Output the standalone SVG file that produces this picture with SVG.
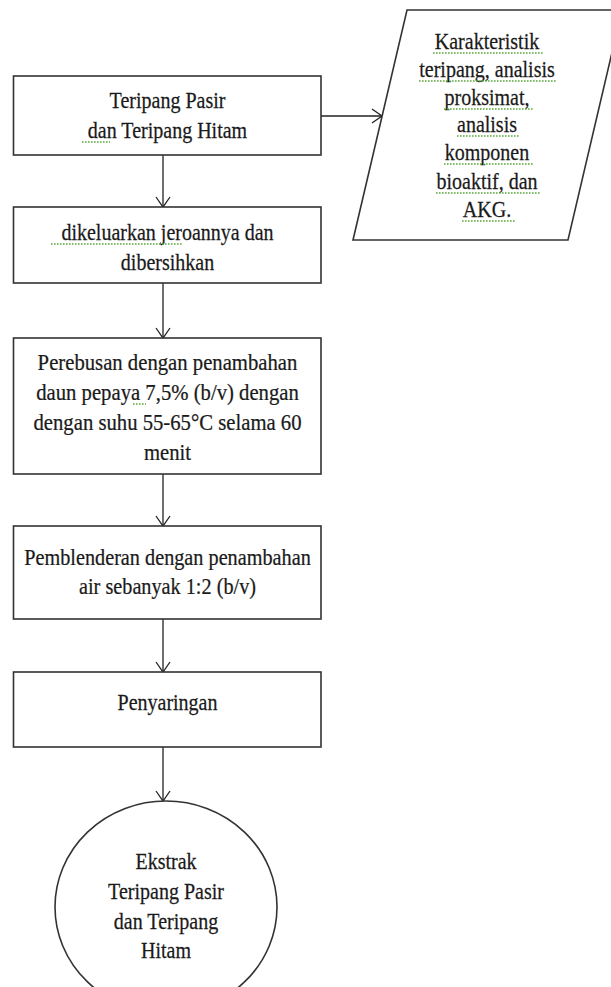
<svg xmlns="http://www.w3.org/2000/svg" width="611" height="987" viewBox="0 0 611 987">
<style>
.box{fill:#fff;stroke:#333;stroke-width:1.6}
.t{font-family:"Liberation Serif","Times New Roman",serif;font-size:23px;fill:#1a1a1a;stroke:#1a1a1a;stroke-width:0.25;text-anchor:middle}
.c{fill:none;stroke:#222;stroke-width:1.3}
.sq{fill:none;stroke:#5aa83c;stroke-width:1.6;stroke-dasharray:1.6 1.4}
</style>
<defs>
<marker id="ah" markerUnits="userSpaceOnUse" markerWidth="14" markerHeight="18" viewBox="-2 -2 14 18" refX="10" refY="7" orient="auto" overflow="visible">
<path d="M0,0 L10,7 L0,14" fill="none" stroke="#222" stroke-width="1.3"/>
</marker>
</defs>

<g id="connectors">
<line class="c" x1="163" y1="155" x2="163" y2="207" marker-end="url(#ah)"/>
<line class="c" x1="163" y1="283" x2="163" y2="338" marker-end="url(#ah)"/>
<line class="c" x1="163" y1="474" x2="163" y2="526" marker-end="url(#ah)"/>
<line class="c" x1="163" y1="619" x2="163" y2="672" marker-end="url(#ah)"/>
<line class="c" x1="163" y1="747" x2="163" y2="801" marker-end="url(#ah)"/>
<line class="c" x1="321" y1="116" x2="382" y2="116" marker-end="url(#ah)"/>
</g>

<g id="n1">
<rect class="box" x="13.5" y="76" width="307.5" height="79"/>
<g transform="translate(167.5 0) scale(0.87 1)">
<text class="t" x="0" y="108">Teripang Pasir</text>
<text class="t" x="0" y="138">dan Teripang Hitam</text>
</g>
<path class="sq" d="M82,142 H110"/>
</g>

<g id="n2">
<rect class="box" x="13.5" y="207" width="307.5" height="76"/>
<g transform="translate(167.5 0) scale(0.87 1)">
<text class="t" x="0" y="240">dikeluarkan jeroannya dan</text>
<text class="t" x="0" y="270">dibersihkan</text>
</g>
<path class="sq" d="M51,244 H183"/>
</g>

<g id="n3">
<rect class="box" x="13.5" y="338" width="307.5" height="136"/>
<g transform="translate(167.5 0) scale(0.9 1)">
<text class="t" x="0" y="370">Perebusan dengan penambahan</text>
<text class="t" x="0" y="400">daun pepaya 7,5% (b/v) dengan</text>
<text class="t" x="0" y="430">dengan suhu 55-65°C selama 60</text>
<text class="t" x="0" y="460">menit</text>
</g>
<path class="sq" d="M133,404 H146"/>
</g>

<g id="n4">
<rect class="box" x="13.5" y="526" width="307.5" height="93"/>
<g transform="translate(167.5 0) scale(0.88 1)">
<text class="t" x="0" y="565">Pemblenderan dengan penambahan</text>
<text class="t" x="0" y="594">air sebanyak 1:2 (b/v)</text>
</g>
</g>

<g id="n5">
<rect class="box" x="13.5" y="672" width="307.5" height="75"/>
<g transform="translate(167.5 0) scale(0.87 1)">
<text class="t" x="0" y="710">Penyaringan</text>
</g>
</g>

<g id="n6">
<ellipse class="box" cx="166" cy="907" rx="111" ry="106"/>
<g transform="translate(166 0) scale(0.87 1)">
<text class="t" x="0" y="869">Ekstrak</text>
<text class="t" x="0" y="899">Teripang Pasir</text>
<text class="t" x="0" y="929">dan Teripang</text>
<text class="t" x="0" y="958">Hitam</text>
</g>
</g>

<g id="n7">
<polygon class="box" points="407,10 622,10 568,240 353,240"/>
<g transform="translate(487 0) scale(0.87 1)">
<text class="t" x="0" y="49">Karakteristik</text>
<text class="t" x="0" y="77">teripang, analisis</text>
<text class="t" x="0" y="105">proksimat,</text>
<text class="t" x="0" y="132">analisis</text>
<text class="t" x="0" y="160">komponen</text>
<text class="t" x="0" y="189">bioaktif, dan</text>
<text class="t" x="0" y="217">AKG.</text>
</g>
<path class="sq" d="M433,53 H543 M419,81 H557 M444,109 H533 M457,136 H520 M444,164 H533 M436,193 H541 M462,221 H515"/>
</g>
</svg>
